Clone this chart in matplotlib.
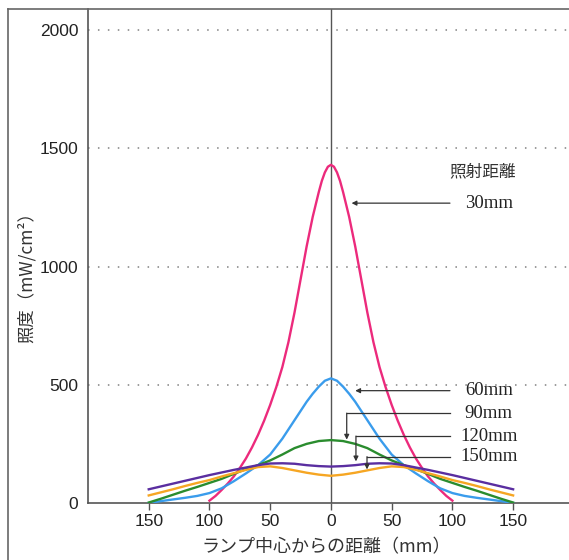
import matplotlib
matplotlib.use("Agg")
import matplotlib.pyplot as plt
from matplotlib.lines import Line2D

plt.rcParams['font.family'] = ['Liberation Sans', 'Noto Sans CJK JP']

# distance from lamp centre (mm), negative = left side of the chart
DIST = [-150, -140, -130, -120, -110, -100, -90, -80, -70, -60, -50, -40, -30, -20, -10,
        0, 10, 20, 30, 40, 50, 60, 70, 80, 90, 100, 110, 120, 130, 140, 150]
DIST_30 = [-100, -95, -90, -85, -80, -75, -70, -65, -60, -55, -50, -45, -40, -35, -30,
           -25, -20, -15, -10, -7.5, -5, -2.5, 0, 2.5, 5, 7.5, 10, 15, 20, 25, 30,
           35, 40, 45, 50, 55, 60, 65, 70, 75, 80, 85, 90, 95, 100]
DIST_60 = [-150, -140, -130, -120, -110, -100, -90, -80, -70, -60, -50, -40, -30, -20, -15,
           -10, -5, 0, 5, 10, 15, 20, 30, 40, 50, 60, 70, 80, 90, 100, 110, 120, 130,
           140, 150]

# irradiance (mW/cm2) per irradiation distance
IRR_30 = [10, 30, 55, 82, 112, 148, 188, 235, 288, 348, 415, 490, 575, 680, 805,
          945, 1085, 1210, 1315, 1362, 1398, 1422, 1430, 1422, 1398, 1362, 1315, 1210,
          1085, 945, 805, 680, 575, 490, 415, 348, 288, 235, 188, 148, 112, 82, 55, 30, 10]
IRR_60 = [0, 8, 15, 22, 30, 42, 62, 92, 125, 160, 205, 272, 350, 428, 462,
          492, 517, 527, 517, 492, 462, 428, 350, 272, 205, 160, 125, 92, 62, 42, 30,
          22, 15, 8, 0]
IRR_90 = [2, 18, 35, 52, 68, 85, 102, 123, 143, 160, 180, 205, 232, 250, 262,
          266, 262, 250, 232, 205, 180, 160, 143, 123, 102, 85, 68, 52, 35, 18, 2]
IRR_120 = [32, 45, 58, 72, 85, 97, 112, 126, 140, 152, 155, 148, 138, 128, 120,
           115, 120, 128, 138, 148, 155, 152, 140, 126, 112, 97, 85, 72, 58, 45, 32]
IRR_150 = [58, 70, 82, 94, 106, 118, 129, 140, 150, 160, 167, 168, 166, 160, 156,
           154, 156, 160, 166, 168, 167, 160, 150, 140, 129, 118, 106, 94, 82, 70, 58]

LABELS = ["30mm", "60mm", "90mm", "120mm", "150mm"]
X_TICKS = [-150, -100, -50, 0, 50, 100, 150]
Y_TICKS = [0, 500, 1000, 1500, 2000]

series = [
    (DIST_30, IRR_30, "#ec2a7c"),
    (DIST_60, IRR_60, "#3a9cec"),
    (DIST, IRR_90, "#2a8c2e"),
    (DIST, IRR_120, "#f6a623"),
    (DIST, IRR_150, "#5a2ea0"),
]

W, H = 569, 560
fig = plt.figure(figsize=(W / 100, H / 100), dpi=100)
fig.patch.set_facecolor("white")
ax = fig.add_axes([88 / W, 1 - 503 / H, (W - 88) / W, (503 - 9) / H])

ax.set_xlim(-200, 196)
ax.set_ylim(0, 2089)

for y in Y_TICKS[1:]:
    ax.axhline(y, color="#808080", lw=1.1, linestyle=(0, (1, 5.5)), zorder=1)
ax.axvline(0, color="#555555", lw=1, zorder=1)

for xs, ys, color in series:
    ax.plot(xs, ys, color=color, lw=1.7, zorder=3, solid_joinstyle="round")

# label block on the right
dark = "#333333"
serif = ["Liberation Serif", "DejaVu Serif"]
ax.text(125, 1400, "照射距離", ha="center", va="center", fontsize=12,
        color=dark, family=["Noto Sans CJK JP", "DejaVu Sans"])

arrow = dict(arrowstyle="-|>", color=dark, lw=0.9, mutation_scale=7,
             shrinkA=0, shrinkB=0)
line_start = 98
label_x = 130
# (label y, arrow x, arrow tip y, bent)
callouts = [
    (1268, 17, 1268, False),
    (475, 20, 475, False),
    (380, 13, 268, True),
    (283, 20.6, 176, True),
    (196, 29.7, 142, True),
]
for label, (ly, ax_x, tip_y, bent) in zip(LABELS, callouts):
    ax.text(label_x, ly, label, ha="center", va="center", fontsize=13.5,
            color="#222222", family=serif, zorder=5)
    if bent:
        ax.plot([line_start, ax_x], [ly, ly], color=dark, lw=0.9, zorder=4)
        ax.annotate("", xy=(ax_x, tip_y), xytext=(ax_x, ly), arrowprops=arrow, zorder=4)
    else:
        ax.annotate("", xy=(ax_x, tip_y), xytext=(line_start, ly), arrowprops=arrow, zorder=4)

ax.set_xticks(X_TICKS)
ax.set_xticklabels([str(abs(v)) for v in X_TICKS])
ax.set_yticks(Y_TICKS)
ax.tick_params(axis="x", direction="out", length=5, width=1, color="#555555",
               pad=3, labelsize=12.5, labelcolor="#222222")
ax.tick_params(axis="y", length=0, pad=7, labelsize=12.5, labelcolor="#222222")

for side in ("top", "right"):
    ax.spines[side].set_visible(False)
for side in ("left", "bottom"):
    ax.spines[side].set_color("#555555")
    ax.spines[side].set_linewidth(1.2)

cjk = ["Noto Sans CJK JP", "DejaVu Sans"]
fig.text(26 / W, 1 - 273 / H, "照度（mW/cm²）", rotation=90, ha="center", va="center",
         fontsize=12.5, color=dark, family=cjk)
fig.text(326 / W, 1 - 547 / H, "ランプ中心からの距離（mm）", ha="center", va="center",
         fontsize=13, color=dark, family=cjk)

# outer frame of the figure
fig.add_artist(Line2D([8 / W, 1], [1 - 9 / H, 1 - 9 / H], transform=fig.transFigure,
                      color="#666666", lw=1.2))
fig.add_artist(Line2D([8 / W, 8 / W], [0, 1 - 9 / H], transform=fig.transFigure,
                      color="#666666", lw=1.2))

fig.savefig("out.png", dpi=100)
